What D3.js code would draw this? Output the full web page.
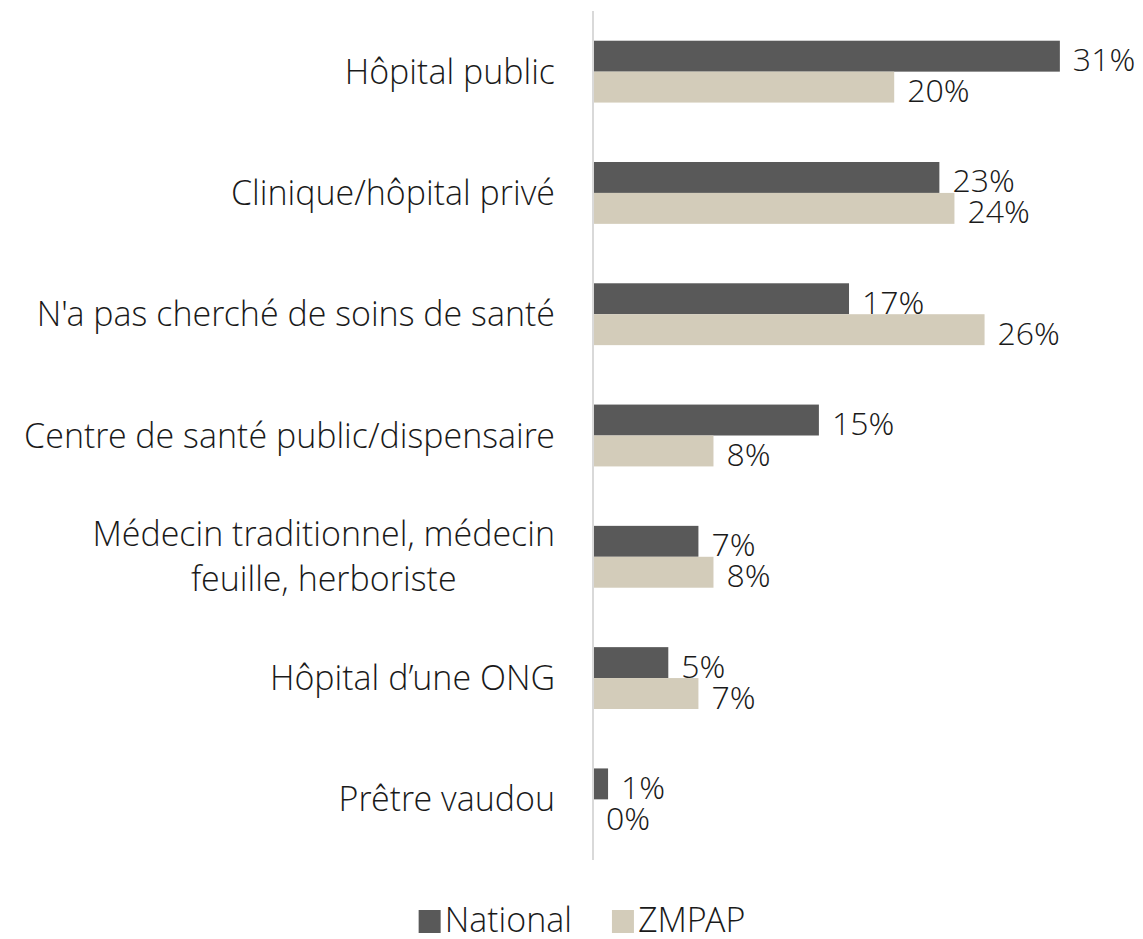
<!DOCTYPE html>
<html>
<head>
<meta charset="utf-8">
<script src="https://cdn.jsdelivr.net/npm/d3@7"></script>
<style>
  body { margin: 0; background: #fff; }
  svg text { font-family: "Open Sans Light", "Open Sans", "Segoe UI", sans-serif; font-weight: 300; fill: #1a1a1a; }
</style>
</head>
<body>
<svg id="chart" width="1143" height="939"></svg>
<script>
const categories = [
  ["Hôpital public"],
  ["Clinique/hôpital privé"],
  ["N'a pas cherché de soins de santé"],
  ["Centre de santé public/dispensaire"],
  ["Médecin traditionnel, médecin", "feuille, herboriste"],
  ["Hôpital d’une ONG"],
  ["Prêtre vaudou"]
];
const seriesNames = ["National", "ZMPAP"];
const national = [31, 23, 17, 15, 7, 5, 1];
const zmpap = [20, 24, 26, 8, 8, 7, 0];
const colors = ["#595959", "#d3ccba"];

const svg = d3.select("#chart");
const labelSize = 34;
const valueSize = 32;

const keys = categories.map(c => c.join(" "));
const rows = keys.map((k, i) => ({ key: k, lines: categories[i], values: [national[i], zmpap[i]] }));

const x = d3.scaleLinear().domain([0, 35]).range([593, 593 + 35 * 15.06]);
const y = d3.scaleBand().domain(keys).range([11, 860]).paddingInner(0.49).paddingOuter(0.245);
const sub = d3.scaleBand().domain(seriesNames).range([0, y.bandwidth()]);
const color = d3.scaleOrdinal().domain(seriesNames).range(colors);

// bars
const groups = svg.append("g").selectAll("g")
  .data(rows).join("g")
  .attr("transform", d => `translate(0,${y(d.key)})`);

groups.selectAll("rect")
  .data(d => d.values.map((v, j) => ({ name: seriesNames[j], value: v })))
  .join("rect")
  .attr("x", x(0))
  .attr("y", d => sub(d.name))
  .attr("width", d => x(d.value) - x(0))
  .attr("height", sub.bandwidth())
  .attr("fill", d => color(d.name));

groups.selectAll("text.val")
  .data(d => d.values.map((v, j) => ({ name: seriesNames[j], value: v })))
  .join("text")
  .attr("class", "val")
  .attr("x", d => x(d.value) + 13)
  .attr("y", d => sub(d.name) + sub.bandwidth() / 2 + 15)
  .style("font-size", valueSize + "px")
  .text(d => d.value + "%");

// axis line
svg.append("line")
  .attr("x1", x(0)).attr("x2", x(0))
  .attr("y1", y.range()[0]).attr("y2", y.range()[1])
  .attr("stroke", "#d9d9d9").attr("stroke-width", 2);

// category labels
const labelRight = 555;
const lineH = 45;
rows.forEach(r => {
  const cy = y(r.key) + y.bandwidth() / 2;
  const t = svg.append("text").style("font-size", labelSize + "px");
  if (r.lines.length === 1) {
    t.attr("x", labelRight).attr("y", cy + 12).attr("text-anchor", "end").text(r.lines[0]);
  } else {
    const spans = r.lines.map((l, i) =>
      t.append("tspan").attr("y", cy + 12 + (i - (r.lines.length - 1) / 2) * lineH).text(l));
    const w = d3.max(spans, s => s.node().getComputedTextLength());
    t.attr("text-anchor", "middle");
    spans.forEach(s => s.attr("x", labelRight - w / 2));
  }
});

// legend
const legend = svg.append("g");
let lx = 0;
seriesNames.forEach(name => {
  const g = legend.append("g").attr("transform", `translate(${lx},0)`);
  g.append("rect").attr("x", 0).attr("y", 910).attr("width", 22).attr("height", 23).attr("fill", color(name));
  const t = g.append("text").attr("x", 26).attr("y", 932).style("font-size", labelSize + "px").text(name);
  lx += 26 + t.node().getComputedTextLength() + 40;
});
const lw = lx - 40;
legend.attr("transform", `translate(${582 - lw / 2},0)`);
</script>
</body>
</html>
